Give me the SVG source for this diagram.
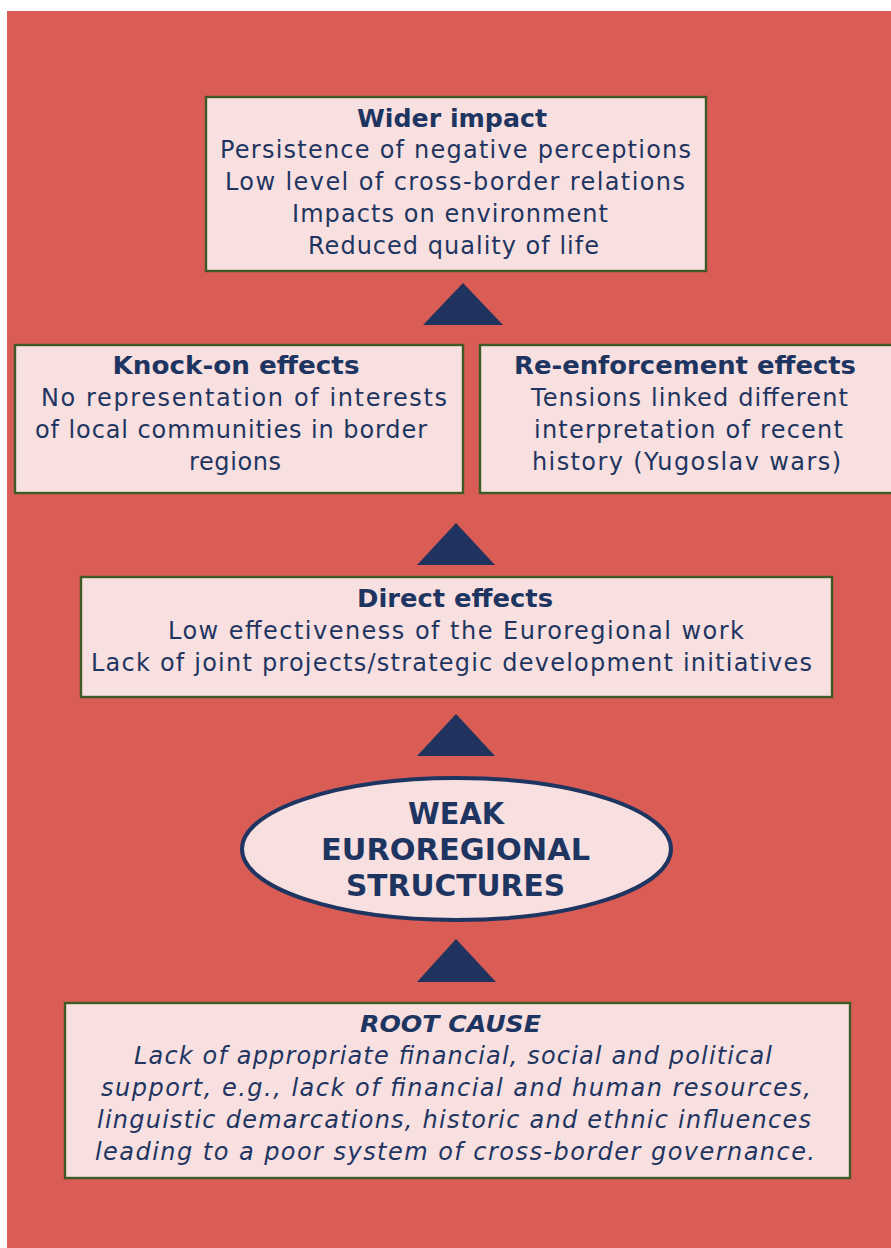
<svg xmlns="http://www.w3.org/2000/svg" width="891" height="1248" viewBox="0 0 891 1248">
  <style>
    .box { fill: #F8E0E0; stroke: #3D5A27; stroke-width: 2.4; }
    .oval { fill: #F8E0E0; stroke: #1F3561; stroke-width: 4; }
    .arrow { fill: #20335E; }
    text { font-family: "DejaVu Sans", Verdana, sans-serif; fill: #1F3561; text-anchor: middle; }
    .t { font-size: 24px; font-weight: bold; }
    .b { font-size: 24px; }
    .big { font-size: 30px; font-weight: bold; }
    .ti { font-size: 23px; font-weight: bold; font-style: italic; }
    .bi { font-size: 24px; font-style: italic; }
  </style>

  <!-- page background -->
  <rect x="7" y="11" width="884" height="1237" fill="#D95C55"/>

  <!-- upward arrowheads between levels -->
  <g id="connectors">
    <polygon class="arrow" points="463,283 503,325 423,325"/>
    <polygon class="arrow" points="456,523 495,565 417,565"/>
    <polygon class="arrow" points="456,714 495,756 417,756"/>
    <polygon class="arrow" points="456,939 496,982 417,982"/>
  </g>

  <g id="wider-impact">
    <rect class="box" x="206" y="97" width="500" height="174"/>
    <text class="t" x="452" y="127" textLength="190" lengthAdjust="spacingAndGlyphs">Wider impact</text>
    <text class="b" x="455.5" y="158" textLength="471" lengthAdjust="spacing">Persistence of negative perceptions</text>
    <text class="b" x="455" y="190" textLength="460" lengthAdjust="spacing">Low level of cross-border relations</text>
    <text class="b" x="450" y="222" textLength="316" lengthAdjust="spacing">Impacts on environment</text>
    <text class="b" x="453.5" y="254" textLength="291" lengthAdjust="spacing">Reduced quality of life</text>
  </g>

  <g id="knock-on-effects">
    <rect class="box" x="15" y="345" width="448" height="148"/>
    <text class="t" x="236" y="374" textLength="247" lengthAdjust="spacingAndGlyphs">Knock-on effects</text>
    <text class="b" x="244" y="406" textLength="406" lengthAdjust="spacing">No representation of interests</text>
    <text class="b" x="231" y="438" textLength="392" lengthAdjust="spacing">of local communities in border</text>
    <text class="b" x="235" y="470" textLength="92" lengthAdjust="spacing">regions</text>
  </g>

  <g id="re-enforcement-effects">
    <rect class="box" x="480" y="345" width="420" height="148"/>
    <text class="t" x="685" y="374" textLength="342" lengthAdjust="spacingAndGlyphs">Re-enforcement effects</text>
    <text class="b" x="689.5" y="406" textLength="317" lengthAdjust="spacing">Tensions linked different</text>
    <text class="b" x="688.5" y="438" textLength="309" lengthAdjust="spacing">interpretation of recent</text>
    <text class="b" x="686.5" y="470" textLength="309" lengthAdjust="spacing">history (Yugoslav wars)</text>
  </g>

  <g id="direct-effects">
    <rect class="box" x="81" y="577" width="751" height="120"/>
    <text class="t" x="455" y="607" textLength="196" lengthAdjust="spacingAndGlyphs">Direct effects</text>
    <text class="b" x="456" y="639" textLength="576" lengthAdjust="spacing">Low effectiveness of the Euroregional work</text>
    <text class="b" x="451.5" y="671" textLength="721" lengthAdjust="spacing">Lack of joint projects/strategic development initiatives</text>
  </g>

  <g id="weak-structures">
    <ellipse class="oval" cx="456.5" cy="849" rx="214.5" ry="71"/>
    <text class="big" x="456" y="824" textLength="96" lengthAdjust="spacingAndGlyphs">WEAK</text>
    <text class="big" x="455.5" y="860" textLength="269" lengthAdjust="spacingAndGlyphs">EUROREGIONAL</text>
    <text class="big" x="455.5" y="896" textLength="219" lengthAdjust="spacingAndGlyphs">STRUCTURES</text>
  </g>

  <g id="root-cause">
    <rect class="box" x="65" y="1003" width="785" height="175"/>
    <text class="ti" x="450.5" y="1032" textLength="181" lengthAdjust="spacingAndGlyphs">ROOT CAUSE</text>
    <text class="bi" x="453" y="1064" textLength="638" lengthAdjust="spacing">Lack of appropriate financial, social and political</text>
    <text class="bi" x="456" y="1096" textLength="710" lengthAdjust="spacing">support, e.g., lack of financial and human resources,</text>
    <text class="bi" x="454" y="1128" textLength="714" lengthAdjust="spacing">linguistic demarcations, historic and ethnic influences</text>
    <text class="bi" x="455" y="1160" textLength="720" lengthAdjust="spacing">leading to a poor system of cross-border governance.</text>
  </g>
</svg>
